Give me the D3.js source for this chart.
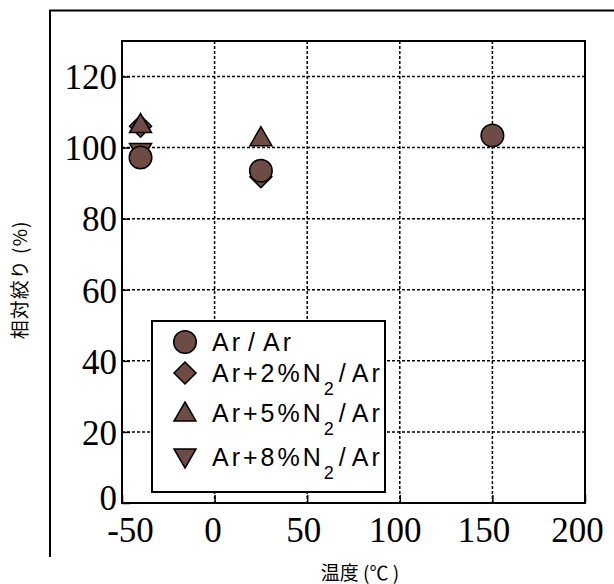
<!DOCTYPE html>
<html><head><meta charset="utf-8">
<script src="https://cdn.jsdelivr.net/npm/d3@7"></script>
<style>body{margin:0;background:#fff}</style>
</head><body>
<svg id="c" width="614" height="584"></svg>
<script>
const xTicks = [-50, 0, 50, 100, 150, 200];
const yTicks = [0, 20, 40, 60, 80, 100, 120];
const seriesNames = ["Ar/Ar", "Ar+2%N2/Ar", "Ar+5%N2/Ar", "Ar+8%N2/Ar"];
const seriesShapes = ["circle", "diamond", "triangle", "triangleDown"];
const arAr = [[-40, 97.2], [25, 93.5], [150, 103.4]];
const ar2N2 = [[-40, 106], [25, 91.8]];
const ar5N2 = [[-40, 106.5], [25, 102.8]];
const ar8N2 = [[-40, 98.9]];
const seriesData = [arAr, ar2N2, ar5N2, ar8N2];
const drawOrder = [1, 2, 3, 0];
// small horizontal nudges of x tick labels, as in the reference
const xLabelNudge = [8, -2, -4, -5, -9, -8];

const svg = d3.select("#c");
const L = 122, R = 585, T = 41, B = 503;
const x = d3.scaleLinear().domain([-50, 200]).range([L, R]);
const y = d3.scaleLinear().domain([0, 130]).range([B, T]);
const fill = "#6e4b45";
const fmt = d => String(d);

// outer frame
svg.append("path").attr("d", `M50,557 V10.5 H614`).attr("fill", "none").attr("stroke", "#000").attr("stroke-width", 2);

// grid
const g = svg.append("g");
g.selectAll(".gx").data(xTicks.filter(d => d > -50 && d < 200)).join("line")
  .attr("x1", d => x(d)).attr("x2", d => x(d)).attr("y1", T).attr("y2", B)
  .attr("stroke", "#000").attr("stroke-width", 1.5).attr("stroke-dasharray", "3,2");
g.selectAll(".gy").data(yTicks.filter(d => d > 0)).join("line")
  .attr("x1", L).attr("x2", R).attr("y1", d => y(d)).attr("y2", d => y(d))
  .attr("stroke", "#000").attr("stroke-width", 1.5).attr("stroke-dasharray", "3,2");

// axes (inner ticks)
const ax = svg.append("g").attr("transform", `translate(0,${B})`)
  .call(d3.axisBottom(x).tickValues(xTicks).tickSize(-8).tickPadding(14).tickFormat(fmt));
const ay = svg.append("g").attr("transform", `translate(${L},0)`)
  .call(d3.axisLeft(y).tickValues(yTicks).tickSize(-8).tickPadding(5).tickFormat(fmt));
[ax, ay].forEach(a => {
  a.select(".domain").remove();
  a.selectAll(".tick line").attr("stroke", "#000").attr("stroke-width", 1.5);
  a.selectAll("text").attr("font-family", "Liberation Serif, serif").attr("font-size", 35).attr("fill", "#000");
});
ax.selectAll("text").attr("dy", "0.71em").attr("dx", (d, i) => xLabelNudge[i]);
ay.selectAll("text").attr("dy", d => d === 0 ? "0.18em" : "0.35em");

// plot box
svg.append("rect").attr("x", L).attr("y", T).attr("width", R - L).attr("height", B - T)
  .attr("fill", "none").attr("stroke", "#000").attr("stroke-width", 2);

// markers
function shapePath(shape) {
  if (shape === "circle") return d3.symbol(d3.symbolCircle, 400)();
  if (shape === "diamond") return "M0,-11L11,0L0,11L-11,0Z";
  if (shape === "triangle") return "M0,-11L11,8L-11,8Z";
  return "M0,11L11,-8L-11,-8Z";
}
drawOrder.forEach(si => {
  svg.append("g").selectAll("path").data(seriesData[si]).join("path")
    .attr("d", shapePath(seriesShapes[si]))
    .attr("transform", d => `translate(${x(d[0])},${y(d[1])})`)
    .attr("fill", fill).attr("stroke", "#000").attr("stroke-width", 1.5);
});

// legend
const lg = svg.append("g");
lg.append("rect").attr("x", 152).attr("y", 321).attr("width", 233).attr("height", 171)
  .attr("fill", "#fff").attr("stroke", "#000").attr("stroke-width", 2);
const ly = [342, 373, 413, 457];
seriesNames.forEach((name, i) => {
  lg.append("path").attr("d", shapePath(seriesShapes[i]))
    .attr("transform", `translate(185,${ly[i]})`)
    .attr("fill", fill).attr("stroke", "#000").attr("stroke-width", 1.5);
  const t = lg.append("text").attr("x", 212).attr("y", ly[i] + 9)
    .attr("font-family", "Liberation Sans, Arial, sans-serif").attr("font-size", 25)
    .attr("letter-spacing", 3).attr("fill", "#000");
  const m = name.match(/^(.*N)2(\/Ar)$/);
  if (m) {
    t.append("tspan").text(m[1]);
    t.append("tspan").text("2").attr("font-size", 18).attr("dy", 13).attr("letter-spacing", 1);
    t.append("tspan").text("/").attr("dy", -13).attr("dx", 4);
    t.append("tspan").text("Ar").attr("dx", 3);
  } else {
    const p = name.split("/");
    t.append("tspan").text(p[0]);
    t.append("tspan").text("/").attr("dx", 5);
    t.append("tspan").text(p[1]).attr("dx", 5);
  }
});

// axis titles
svg.append("text").attr("x", 360).attr("y", 580).attr("text-anchor", "middle")
  .attr("font-family", "Noto Sans CJK JP, sans-serif").attr("font-size", 19).attr("fill", "#000")
  .text("温度 (℃ )");
svg.append("text").attr("transform", "translate(27,280) rotate(-90)").attr("text-anchor", "middle")
  .attr("font-family", "Noto Sans CJK JP, sans-serif").attr("font-size", 19).attr("fill", "#000")
  .attr("letter-spacing", 1)
  .text("相対絞り (%)");
</script>
</body></html>
